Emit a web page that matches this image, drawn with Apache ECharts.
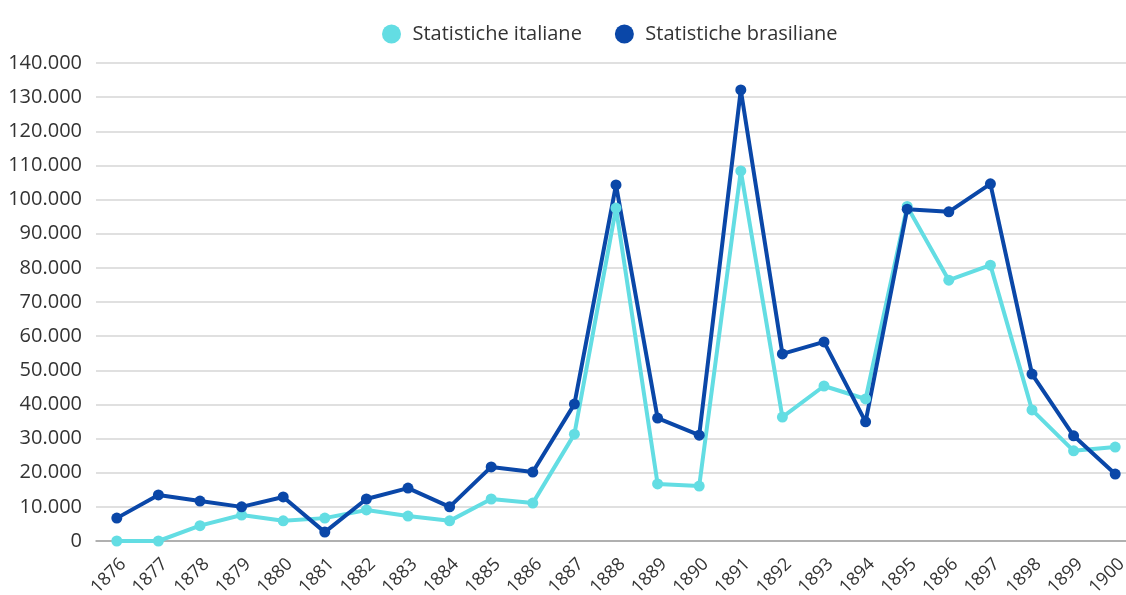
<!DOCTYPE html>
<html>
<head>
<meta charset="utf-8">
<script src="https://cdn.jsdelivr.net/npm/echarts@6/dist/echarts.min.js"></script>
<style>
  html, body { margin: 0; padding: 0; background: #fff; }
  #chart { width: 1126px; height: 595px; }
</style>
</head>
<body>
<div id="chart"></div>
<script>
const years = ['1876','1877','1878','1879','1880','1881','1882','1883','1884','1885','1886','1887','1888',
  '1889','1890','1891','1892','1893','1894','1895','1896','1897','1898','1899','1900']

// valori
const italiane = [0, 0, 4500, 7600, 5900, 6700, 9100, 7300, 5900, 12300, 11100, 31300, 97500,
  16700, 16100, 108400, 36300, 45400, 41600, 98000, 76400, 80800, 38400, 26400, 27500]
const brasiliane = [6700, 13500, 11700, 10000, 12900, 2600, 12300, 15500, 10000, 21700, 20200, 40100, 104300,
  36000, 31000, 132100, 54800, 58300, 34900, 97200, 96400, 104600, 48900, 30800, 19600]

const seriesNames = ['Statistiche italiane', 'Statistiche brasiliane']

const fmt = v => String(v).replace(/\B(?=(\d{3})+(?!\d))/g, '.')

const chart = echarts.init(document.getElementById('chart'))

const options = {
  animation: false,
  textStyle: { fontFamily: 'Open Sans' },
  color: ['#63dde3', '#0a47a8'],
  legend: {
    top: 19,
    left: 377,
    itemWidth: 32,
    itemHeight: 19,
    itemGap: 33,
    icon: 'circle',
    textStyle: { fontSize: 20, color: '#333', fontFamily: 'Open Sans' },
    data: seriesNames
  },
  grid: {
    left: 96,
    width: 1040,
    top: 63,
    bottom: 54,
    containLabel: false,
    outerBoundsMode: 'none'
  },
  xAxis: {
    type: 'category',
    data: years,
    boundaryGap: true,
    axisTick: { show: false },
    axisLine: { lineStyle: { color: '#a0a0a0', width: 1.5 } },
    axisLabel: {
      rotate: 45,
      fontSize: 18,
      color: '#333',
      margin: 14,
      verticalAlign: 'top',
      interval: 0
    }
  },
  yAxis: {
    type: 'value',
    min: 0,
    max: 140000,
    interval: 10000,
    axisLine: { show: false },
    axisTick: { show: false },
    splitLine: { lineStyle: { color: '#d6d6d6', width: 1.5 } },
    axisLabel: {
      fontSize: 20,
      color: '#333',
      margin: 14,
      formatter: fmt
    }
  },
  series: [
    {
      name: seriesNames[0],
      type: 'line',
      data: italiane,
      symbol: 'circle',
      symbolSize: 11,
      lineStyle: { width: 4 },
      itemStyle: { color: '#63dde3' }
    },
    {
      name: seriesNames[1],
      type: 'line',
      data: brasiliane,
      symbol: 'circle',
      symbolSize: 11,
      lineStyle: { width: 4 },
      itemStyle: { color: '#0a47a8' }
    }
  ]
}

chart.setOption(options)
</script>
</body>
</html>
